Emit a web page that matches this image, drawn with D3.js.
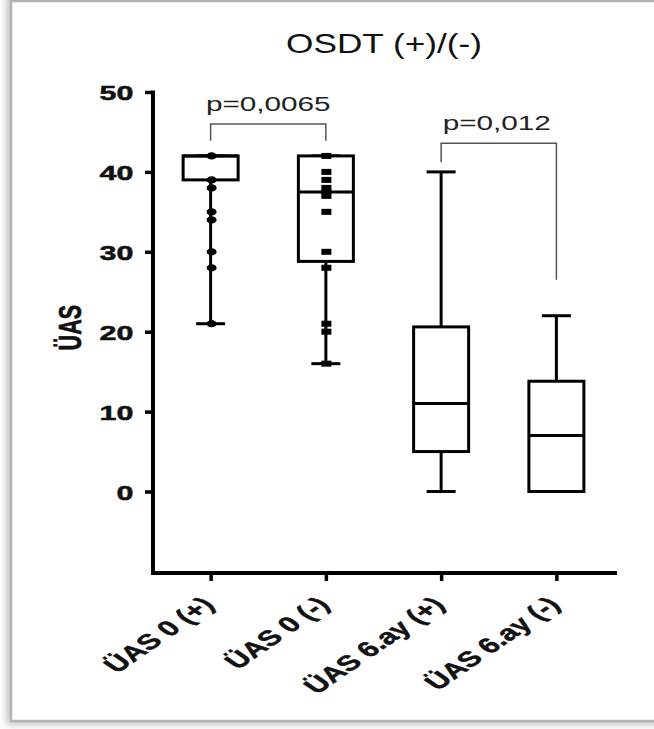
<!DOCTYPE html>
<html>
<head>
<meta charset="utf-8">
<script src="https://cdn.jsdelivr.net/npm/d3@7"></script>
<style>
  body { margin: 0; background: #fff; }
  svg { display: block; font-family: "Liberation Sans", Arial, sans-serif; }
</style>
</head>
<body>
<svg id="chart" width="654" height="729"></svg>
<script>
// values
const categories = ["ÜAS 0 (+)", "ÜAS 0 (-)", "ÜAS 6.ay (+)", "ÜAS 6.ay (-)"];
const minVals    = [21, 16, 0, 0];
const q1Vals     = [39, 28.8, 5, 0];
const medianVals = [42, 37.5, 11, 7];
const q3Vals     = [42, 42, 20.6, 13.8];
const maxVals    = [42, 42, 40, 22];
const pointsPlus  = [42, 39, 38, 35, 34, 30, 28, 21];
const pointsMinus = [42, 40, 39, 38, 37.5, 37, 35, 30, 28, 21, 20, 16];
const yTicks = [0, 10, 20, 30, 40, 50];
const title = "OSDT (+)/(-)";
const yTitle = "ÜAS";
// comparisons: from, to, bracket top, left leg end, right leg end, label
const compFrom  = [0, 2];
const compTo    = [1, 3];
const compTop   = [46, 43.6];
const compLeft  = [43.9, 41.2];
const compRight = [43.9, 26.5];
const compLabel = ["p=0,0065", "p=0,012"];

const svg = d3.select("#chart");
const SX = 1.45; // the picture is stretched sideways

// frame with a soft shadow
const defs = svg.append("defs");
const f = defs.append("filter").attr("id", "sh").attr("x", "-10%").attr("y", "-10%").attr("width", "120%").attr("height", "120%");
f.append("feGaussianBlur").attr("stdDeviation", 3);
svg.append("rect").attr("x", 6).attr("y", -4).attr("width", 700).attr("height", 729)
  .attr("fill", "#c8c8c8").attr("filter", "url(#sh)");
svg.append("rect").attr("x", 11).attr("y", 1).attr("width", 700).attr("height", 720)
  .attr("fill", "#fff").attr("stroke", "#b5b5b5").attr("stroke-width", 2.5);

const y = d3.scaleLinear().domain([-10.2, 50]).range([573, 92]);
const x = d3.scalePoint().domain(categories).range([153, 614]).padding(0.5);

// y axis
const gy = svg.append("g").attr("transform", "translate(153,0)")
  .call(d3.axisLeft(y).tickValues(yTicks).tickSize(8).tickSizeOuter(0).tickPadding(0));
gy.select(".domain").remove();
gy.selectAll(".tick line").attr("stroke", "#000").attr("stroke-width", 3.5);
gy.selectAll(".tick text")
  .attr("x", -13.5).attr("dy", "0.36em")
  .attr("transform", `scale(${SX},1)`)
  .attr("fill", "#111").attr("stroke", "#111").attr("stroke-width", 0.5)
  .attr("font-size", 21).attr("font-weight", "bold");
svg.append("line").attr("x1", 153).attr("x2", 153).attr("y1", y(50) - 1.5).attr("y2", 575)
  .attr("stroke", "#000").attr("stroke-width", 4);

// x axis
const gx = svg.append("g").attr("transform", "translate(0,573)")
  .call(d3.axisBottom(x).tickSize(8).tickSizeOuter(0).tickFormat(""));
gx.select(".domain").remove();
gx.selectAll(".tick line").attr("stroke", "#000").attr("stroke-width", 3.5);
svg.append("line").attr("x1", 151).attr("x2", 617).attr("y1", 573).attr("y2", 573)
  .attr("stroke", "#000").attr("stroke-width", 4);

svg.append("g").selectAll("text").data(categories).join("text")
  .attr("transform", d => `translate(${x(d) + 5},606) scale(${SX},1) rotate(-45)`)
  .attr("text-anchor", "end")
  .attr("font-size", 21.5).attr("font-weight", "bold")
  .attr("fill", "#111").attr("stroke", "#111").attr("stroke-width", 0.5)
  .text(d => d);

// titles
svg.append("text")
  .attr("transform", `translate(384,53) scale(1.28,1)`)
  .attr("text-anchor", "middle").attr("font-size", 27.5).attr("fill", "#111")
  .text(title);
svg.append("text")
  .attr("transform", `translate(81,${y(20.5)}) scale(${SX},1) rotate(-90)`)
  .attr("text-anchor", "middle").attr("font-size", 21.5).attr("font-weight", "bold")
  .attr("fill", "#111").attr("stroke", "#111").attr("stroke-width", 0.5)
  .text(yTitle);

// boxes
const bw = 55, cw = 29;
const boxes = categories.map((c, i) => ({
  c, min: minVals[i], q1: q1Vals[i], med: medianVals[i], q3: q3Vals[i], max: maxVals[i]
}));
const gb = svg.append("g").attr("stroke", "#000").attr("stroke-width", 3).attr("fill", "none");
gb.selectAll(".wl").data(boxes).join("line")
  .attr("x1", d => x(d.c)).attr("x2", d => x(d.c))
  .attr("y1", d => y(d.q1)).attr("y2", d => y(d.min));
gb.selectAll(".wh").data(boxes).join("line")
  .attr("x1", d => x(d.c)).attr("x2", d => x(d.c))
  .attr("y1", d => y(d.q3)).attr("y2", d => y(d.max));
gb.selectAll(".cl").data(boxes).join("line")
  .attr("x1", d => x(d.c) - cw / 2).attr("x2", d => x(d.c) + cw / 2)
  .attr("y1", d => y(d.min)).attr("y2", d => y(d.min));
gb.selectAll(".ch").data(boxes).join("line")
  .attr("x1", d => x(d.c) - cw / 2).attr("x2", d => x(d.c) + cw / 2)
  .attr("y1", d => y(d.max)).attr("y2", d => y(d.max));
gb.selectAll("rect").data(boxes).join("rect")
  .attr("x", d => x(d.c) - bw / 2).attr("width", bw)
  .attr("y", d => y(d.q3)).attr("height", d => y(d.q1) - y(d.q3))
  .attr("fill", "#fff");
gb.selectAll(".md").data(boxes).join("line")
  .attr("x1", d => x(d.c) - bw / 2).attr("x2", d => x(d.c) + bw / 2)
  .attr("y1", d => y(d.med)).attr("y2", d => y(d.med));

// individual points
svg.append("g").selectAll("ellipse").data(pointsPlus).join("ellipse")
  .attr("cx", x(categories[0]) + 1).attr("cy", d => y(d))
  .attr("rx", 5).attr("ry", 3.6).attr("fill", "#000");
svg.append("g").selectAll("rect").data(pointsMinus).join("rect")
  .attr("x", x(categories[1]) - 4.5).attr("y", d => y(d) - 3)
  .attr("width", 10).attr("height", 6).attr("fill", "#000");

// significance brackets
const gc = svg.append("g");
compFrom.forEach((a, i) => {
  const x1 = x(categories[a]), x2 = x(categories[compTo[i]]);
  gc.append("path")
    .attr("d", `M${x1},${y(compLeft[i])}V${y(compTop[i])}H${x2}V${y(compRight[i])}`)
    .attr("fill", "none").attr("stroke", "#555").attr("stroke-width", 1.5);
  gc.append("text")
    .attr("transform", `translate(${(x1 + x2) / 2 + (i === 0 ? 0 : -2)},${y(compTop[i]) - 13}) scale(${SX},1)`)
    .attr("text-anchor", "middle").attr("font-size", 20.5).attr("fill", "#222")
    .text(compLabel[i]);
});
</script>
</body>
</html>
